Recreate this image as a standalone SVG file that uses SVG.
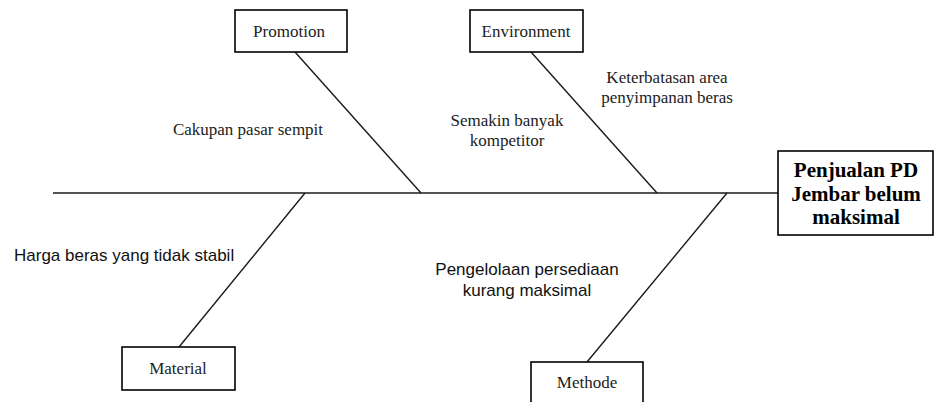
<svg xmlns="http://www.w3.org/2000/svg" width="935" height="402" viewBox="0 0 935 402">
<style>
.box{fill:#fff;stroke:#000;stroke-width:1.6}
.ln{stroke:#1a1a1a;stroke-width:1.4;fill:none}
.serif{font-family:"Liberation Serif","Times New Roman",serif;font-size:17px;fill:#222}
.sans{font-family:"Liberation Sans",Arial,sans-serif;font-size:17px;fill:#111}
.head{font-family:"Liberation Serif","Times New Roman",serif;font-size:21px;font-weight:bold;fill:#000}
</style>
<rect width="935" height="402" fill="#fff"/>
<g id="connectors">
<line class="ln" x1="53" y1="193" x2="778" y2="193"/>
<line class="ln" x1="295" y1="52" x2="421" y2="193"/>
<line class="ln" x1="531" y1="52" x2="657" y2="193"/>
<line class="ln" x1="305" y1="193" x2="179" y2="347"/>
<line class="ln" x1="727" y1="193" x2="587" y2="362"/>
</g>
<g id="promotion">
<rect class="box" x="235" y="10" width="112" height="42"/>
<text class="serif" x="289" y="37" text-anchor="middle">Promotion</text>
</g>
<g id="environment">
<rect class="box" x="470" y="10" width="113" height="42"/>
<text class="serif" x="526" y="37" text-anchor="middle">Environment</text>
</g>
<g id="material">
<rect class="box" x="122" y="347" width="113" height="43"/>
<text class="serif" x="178" y="374" text-anchor="middle">Material</text>
</g>
<g id="methode">
<rect class="box" x="531" y="362" width="112" height="46"/>
<text class="serif" x="587" y="388" text-anchor="middle">Methode</text>
</g>
<g id="effect">
<rect class="box" x="778" y="151" width="155" height="84"/>
<text class="head" x="856" y="177" text-anchor="middle">Penjualan PD</text>
<text class="head" x="856" y="201" text-anchor="middle">Jembar belum</text>
<text class="head" x="856" y="224" text-anchor="middle">maksimal</text>
</g>
<g id="labels">
<text class="serif" x="248" y="135" text-anchor="middle">Cakupan pasar sempit</text>
<text class="serif" x="507" y="126" text-anchor="middle">Semakin banyak</text>
<text class="serif" x="507" y="146" text-anchor="middle">kompetitor</text>
<text class="serif" x="667" y="83" text-anchor="middle">Keterbatasan area</text>
<text class="serif" x="667" y="103" text-anchor="middle">penyimpanan beras</text>
<text class="sans" x="14" y="261">Harga beras yang tidak stabil</text>
<text class="sans" x="527" y="275" text-anchor="middle">Pengelolaan persediaan</text>
<text class="sans" x="527" y="296" text-anchor="middle">kurang maksimal</text>
</g>
</svg>
